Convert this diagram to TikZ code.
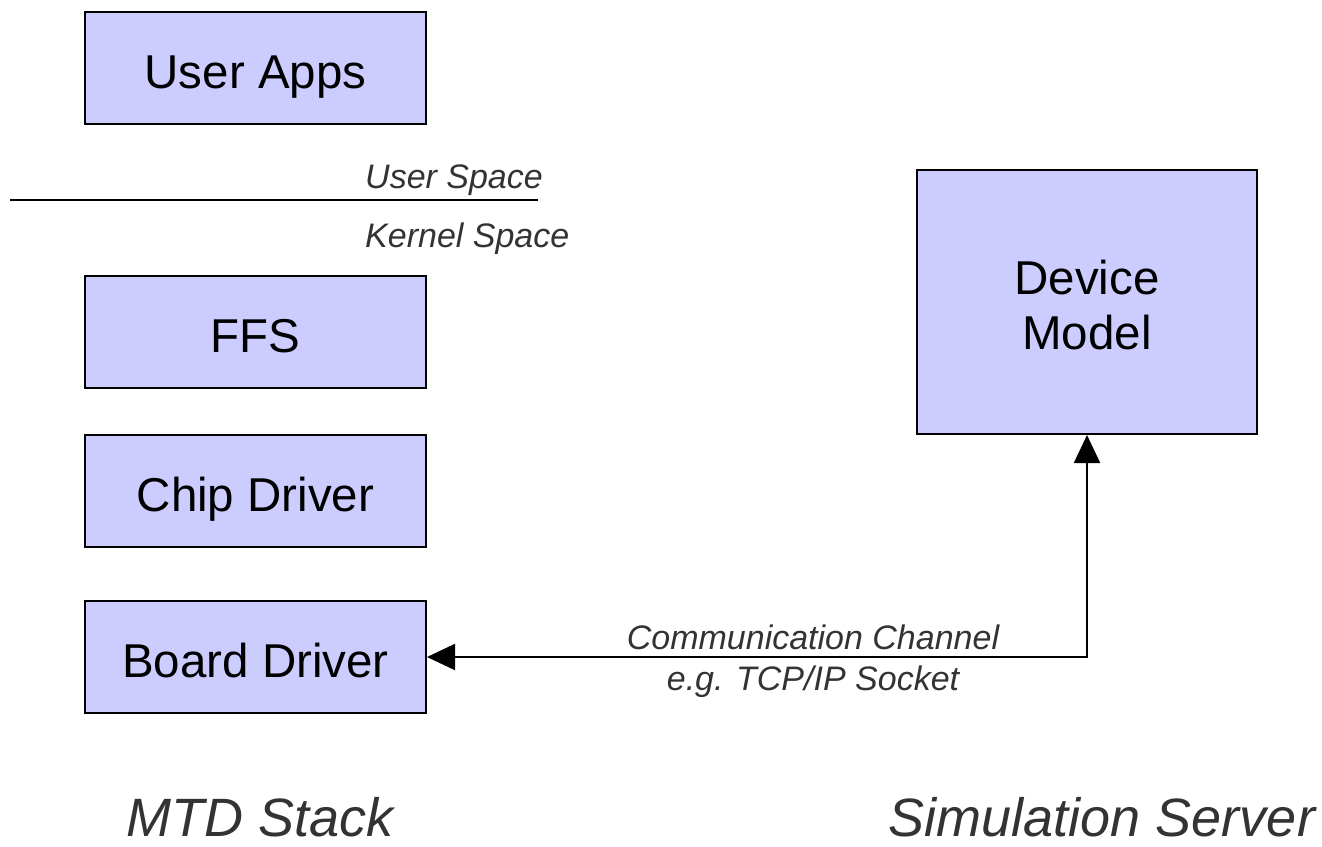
\documentclass[tikz,border=0pt]{standalone}
\usepackage{fontspec}
\setmainfont{Liberation Sans}
\usetikzlibrary{arrows.meta}
\definecolor{boxfill}{HTML}{CCCCFF}
\definecolor{labelgrey}{HTML}{333333}
\begin{document}
\begin{tikzpicture}[x=1pt,y=-1pt,
  box/.style={draw=black, line width=2pt, fill=boxfill, inner sep=0pt,
    minimum width=341pt, minimum height=112pt, align=center,
    font=\fontsize{47.5}{55}\selectfont},
  onebox/.style={box, text height=41pt, text depth=0pt},
  note/.style={text=labelgrey, inner sep=0pt, font=\fontsize{34}{38}\selectfont\itshape},
  title/.style={text=labelgrey, inner sep=0pt, text depth=0pt, font=\fontsize{54}{60}\selectfont\itshape},
  conn/.style={line width=2pt, {Triangle[length=28pt,width=26pt]}-{Triangle[length=28pt,width=26pt]}}
]
\useasboundingbox (0,0) rectangle (1322,846);
\node[onebox] (apps) at (255.5,67.5) {User Apps};
\node[onebox] (ffs) at (255.5,332) {FFS};
\node[onebox] (chip) at (255.5,491) {Chip Driver};
\node[onebox] (board) at (255.5,657) {Board Driver};
\node[box, minimum width=340pt, minimum height=264pt] (model) at (1087,302) {\rule{0pt}{0pt}\\[-14pt]Device\\Model};
\coordinate (sl) at (10,200);
\coordinate (sr) at (538,200);
\draw[line width=2pt] (sl) -- (sr);
\node[note, anchor=west] (us) at (365,180) {User Space};
\node[note, anchor=west] (ks) at (365,239) {Kernel Space};
\draw[conn] (board.east) -- (board.east -| model.south) -- (model.south);
\node[note] (cc) at (813,637) {Communication Channel};
\node[note] (tcp) at (813,682) {e.g. TCP/IP Socket};
\node[title] (mtd) at (260,817) {MTD Stack};
\node[title] (sim) at (1102,817) {Simulation Server};
\end{tikzpicture}
\end{document}
